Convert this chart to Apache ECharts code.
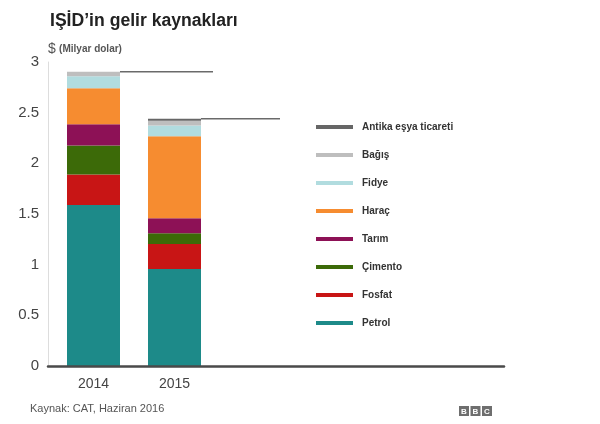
<!DOCTYPE html>
<html>
<head>
<meta charset="utf-8">
<script src="https://cdn.jsdelivr.net/npm/echarts@6/dist/echarts.min.js"></script>
<style>html,body{margin:0;padding:0;background:#fff}#c{width:600px;height:424px}</style>
</head>
<body>
<div id="c"></div>
<script>
// ---- data ----
const years = ['2014', '2015'];
const seriesNames = ['Petrol', 'Fosfat', 'Çimento', 'Tarım', 'Haraç', 'Fidye', 'Bağış', 'Antika eşya ticareti'];
const petrol  = [1.59, 0.957];
const fosfat  = [0.30, 0.247];
const cimento = [0.285, 0.106];
const tarim   = [0.21, 0.148];
const harac   = [0.355, 0.81];
const fidye   = [0.12, 0.105];
const bagis   = [0.045, 0.046];
const antika  = [0.0, 0.02];
const yTicks  = [0, 0.5, 1, 1.5, 2, 2.5, 3];

const values = [petrol, fosfat, cimento, tarim, harac, fidye, bagis, antika];
const colors = ['#1d8a89', '#c81515', '#3c6a08', '#8d1156', '#f68c30', '#b1dcdf', '#bebebe', '#666666'];
const totals = years.map((y, i) => values.reduce((s, arr) => s + arr[i], 0));

const FONT = 'Liberation Sans, Arial, sans-serif';
const BAR_W = 53;
const LEADER_LEN = [93, 79];

const chart = echarts.init(document.getElementById('c'), null, {renderer: 'canvas'});

const barSeries = seriesNames.map((name, k) => ({
  name: name,
  type: 'bar',
  stack: 'total',
  xAxisIndex: 0,
  yAxisIndex: 0,
  barWidth: BAR_W,
  itemStyle: {color: colors[k]},
  data: values[k]
}));

chart.setOption({
  animation: false,
  backgroundColor: '#fff',
  textStyle: {fontFamily: FONT},
  title: {
    text: 'IŞİD’in gelir kaynakları',
    left: 45, top: 7,
    textStyle: {fontSize: 17.6, fontWeight: 'bold', color: '#222', fontFamily: FONT}
  },
  legend: {
    orient: 'vertical',
    left: 311, top: 117,
    itemWidth: 37, itemHeight: 4,
    itemGap: 18,
    icon: 'rect',
    selectedMode: false,
    data: seriesNames.slice().reverse(),
    textStyle: {fontSize: 10, fontWeight: 'bold', color: '#333', fontFamily: FONT, lineHeight: 10, padding: [0, 0, 0, 4]}
  },
  grid: [
    {left: 53, width: 162, top: 62, bottom: 58},
    {left: 48, right: 96, top: 62, bottom: 58}
  ],
  xAxis: [
    {
      type: 'category', gridIndex: 0, data: years,
      axisLine: {show: false}, axisTick: {show: false},
      axisLabel: {fontSize: 14, color: '#444', margin: 11, fontFamily: FONT}
    },
    {
      type: 'value', gridIndex: 1, min: 0, max: 1,
      axisLabel: {show: false}, axisTick: {show: false}, splitLine: {show: false},
      axisLine: {show: true, lineStyle: {color: '#4a4a4a', width: 2.5}},
      z: 10
    }
  ],
  yAxis: [
    {type: 'value', gridIndex: 0, min: 0, max: 3, show: false},
    {
      type: 'value', gridIndex: 1, min: yTicks[0], max: yTicks[yTicks.length - 1], interval: 0.5,
      axisLine: {show: true, lineStyle: {color: '#dddddd', width: 1}},
      axisTick: {show: false},
      splitLine: {show: false},
      axisLabel: {fontSize: 15, color: '#444', margin: 9, fontFamily: FONT},
      name: '{a|$} {b|(Milyar dolar)}',
      nameLocation: 'end',
      nameGap: 6,
      nameTextStyle: {
        align: 'left',
        rich: {
          a: {fontSize: 14, color: '#555', fontFamily: FONT},
          b: {fontSize: 10, fontWeight: 'bold', color: '#555', fontFamily: FONT}
        }
      }
    }
  ],
  series: barSeries.concat([{
    type: 'custom',
    name: 'leader',
    xAxisIndex: 0,
    yAxisIndex: 0,
    silent: true,
    z: 5,
    clip: false,
    data: totals.map((t, i) => [i, t]),
    renderItem: function (params, api) {
      const p = api.coord([api.value(0), api.value(1)]);
      const x0 = p[0] + BAR_W / 2;
      return {
        type: 'line',
        shape: {x1: x0, y1: p[1], x2: x0 + LEADER_LEN[params.dataIndex], y2: p[1]},
        style: {stroke: '#6a6a6a', lineWidth: 1.5}
      };
    }
  }]),
  graphic: [
    {
      type: 'text', left: 30, top: 403,
      style: {text: 'Kaynak: CAT, Haziran 2016', fontSize: 11, fill: '#555', fontFamily: FONT}
    },
    {
      type: 'group', left: 459, top: 406,
      children: ['B', 'B', 'C'].flatMap((ch, i) => [
        {type: 'rect', shape: {x: i * 11.5, y: 0, width: 10, height: 10}, style: {fill: '#6e6e6e'}},
        {type: 'text', x: i * 11.5 + 5, y: 5.5, style: {text: ch, fontSize: 8, fontWeight: 'bold', fill: '#fff', align: 'center', verticalAlign: 'middle', fontFamily: FONT}}
      ])
    }
  ]
});
</script>
</body>
</html>
